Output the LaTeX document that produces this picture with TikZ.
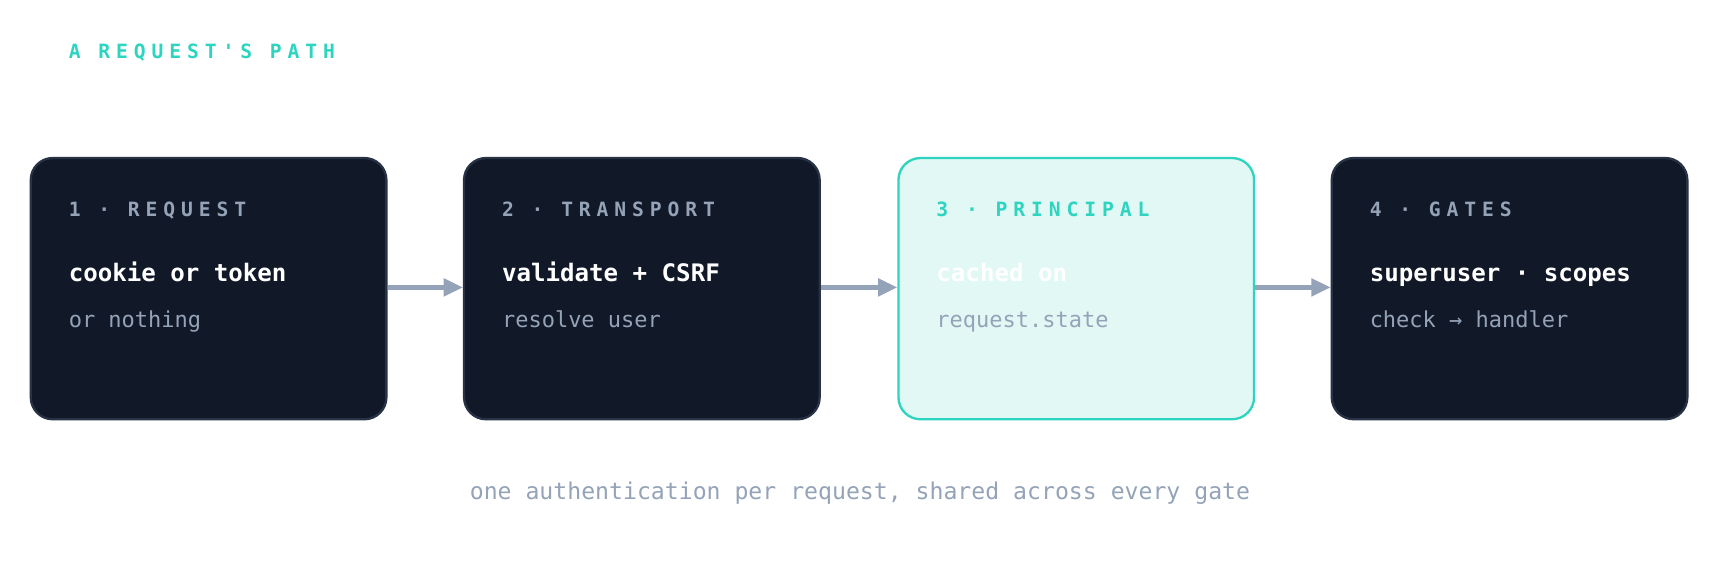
\documentclass[tikz,border=0pt]{standalone}
\usepackage{fontspec}
\setmonofont{DejaVu Sans Mono}
\newfontfamily\spacedmono[LetterSpace=30]{DejaVu Sans Mono}
\usetikzlibrary{positioning,arrows.meta}
\definecolor{navy}{HTML}{111827}
\definecolor{navyline}{HTML}{273244}
\definecolor{teal}{HTML}{2DD4BF}
\definecolor{mint}{HTML}{E2F8F5}
\definecolor{slate}{HTML}{94A3B8}
\tikzset{
  stage/.style={rounded corners=0.2cm, minimum width=3.24cm, minimum height=2.38cm, anchor=north west, inner sep=0pt, line width=0.6pt},
  darkstage/.style={stage, fill=navy, draw=navyline},
  lightstage/.style={stage, fill=mint, draw=teal},
  head/.style={anchor=base west, inner sep=0pt, font=\spacedmono\bfseries\fontsize{5.1}{6}\selectfont},
  main/.style={anchor=base west, inner sep=0pt, font=\ttfamily\bfseries\fontsize{6.25}{7}\selectfont, text=white},
  sub/.style={anchor=base west, inner sep=0pt, font=\ttfamily\fontsize{5.7}{7}\selectfont, text=slate},
  flow/.style={-{Triangle[length=5pt,width=4.5pt]}, draw=slate, line width=1.1pt}
}
\begin{document}
\begin{tikzpicture}[x=0.01cm,y=-0.01cm]
\useasboundingbox[fill=white] (0,0) rectangle (1568,511);
\node[head, text=teal] (title) at (62,53) {A REQUEST'S PATH};

\node[darkstage]  (s1) at (27,143) {};
\node[darkstage]  (s2) at (422,143) {};
\node[lightstage] (s3) at (818,143) {};
\node[darkstage]  (s4) at (1213,143) {};

\node[head, text=slate] (h1) at (62,197) {1 · REQUEST};
\node[main] (m1) at (62,257) {cookie or token};
\node[sub]  (d1) at (62,299) {or nothing};

\node[head, text=slate] (h2) at (457,197) {2 · TRANSPORT};
\node[main] (m2) at (457,257) {validate + CSRF};
\node[sub]  (d2) at (457,299) {resolve user};

\node[head, text=teal] (h3) at (853,197) {3 · PRINCIPAL};
\node[main] (m3) at (853,257) {cached on};
\node[sub]  (d3) at (853,299) {request.state};

\node[head, text=slate] (h4) at (1248,197) {4 · GATES};
\node[main] (m4) at (1248,257) {superuser · scopes};
\node[sub]  (d4) at (1248,299) {check → handler};

\draw[flow] (s1.east |- 0,262) -- (s2.west |- 0,262);
\draw[flow] (s2.east |- 0,262) -- (s3.west |- 0,262);
\draw[flow] (s3.east |- 0,262) -- (s4.west |- 0,262);

\node[sub, anchor=base, font=\ttfamily\fontsize{6}{7}\selectfont] (note) at (784,455) {one authentication per request, shared across every gate};
\end{tikzpicture}
\end{document}
